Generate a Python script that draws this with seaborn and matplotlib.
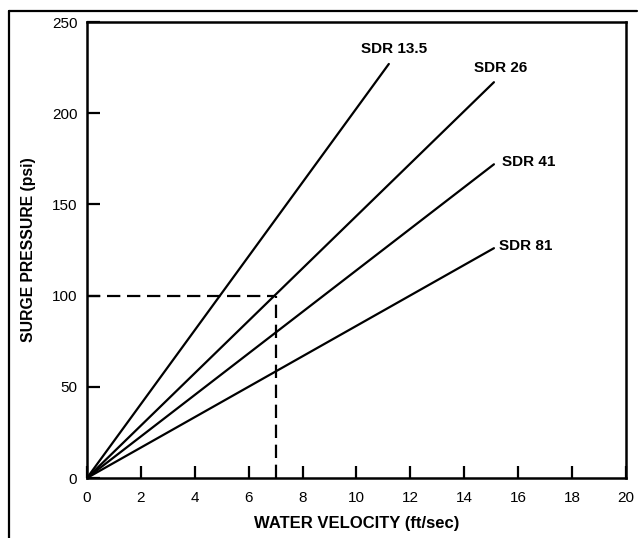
import matplotlib
matplotlib.use("Agg")
import matplotlib.pyplot as plt
import pandas as pd
import seaborn as sns

# values: each line runs from the origin to its end point
series = ["SDR 13.5", "SDR 26", "SDR 41", "SDR 81"]
end_velocity = [11.2, 15.1, 15.1, 15.1]
end_pressure = [227, 217, 172, 126]

# example reading (dashed guide)
guide_velocity = 7
guide_pressure = 100

x_ticks = [0, 2, 4, 6, 8, 10, 12, 14, 16, 18, 20]
y_ticks = [0, 50, 100, 150, 200, 250]

rows = []
for name, vx, py in zip(series, end_velocity, end_pressure):
    rows.append({"series": name, "velocity": 0, "pressure": 0})
    rows.append({"series": name, "velocity": vx, "pressure": py})
df = pd.DataFrame(rows)

sns.set_style("white")
font = ["Liberation Sans", "DejaVu Sans"]
plt.rcParams["font.family"] = font
plt.rcParams["text.color"] = "black"
plt.rcParams["axes.labelcolor"] = "black"
plt.rcParams["xtick.color"] = "black"
plt.rcParams["ytick.color"] = "black"

fig = plt.figure(figsize=(6.41, 5.38), dpi=100)
ax = fig.add_axes([0.1357, 0.1115, 0.8409, 0.8476])

sns.lineplot(data=df, x="velocity", y="pressure", units="series",
             estimator=None, color="black", linewidth=1.6, ax=ax,
             legend=False)

# dashed guide lines
ax.plot([0, guide_velocity], [guide_pressure, guide_pressure],
        color="black", linestyle=(0, (6, 3)), linewidth=1.6)
ax.plot([guide_velocity, guide_velocity], [0, guide_pressure],
        color="black", linestyle=(0, (6, 3)), linewidth=1.6)

# line labels near the end of each line (offsets in data units)
label_dx = [0.2, 0.25, 0.3, 0.2]
label_dy = [8, 8, 1, 1]
label_ha = ["center", "center", "left", "left"]
for name, vx, py, dx, dy, ha in zip(series, end_velocity, end_pressure,
                                    label_dx, label_dy, label_ha):
    ax.text(vx + dx, py + dy, name, ha=ha, va="center",
            fontsize=11, fontweight="bold")

ax.set_xlim(0, 20)
ax.set_ylim(0, 250)
ax.set_xticks(x_ticks)
ax.set_yticks(y_ticks)
ax.tick_params(axis="both", direction="in", length=9, width=1.6,
               labelsize=11, bottom=True, left=True)
ax.tick_params(axis="x", pad=9)
ax.tick_params(axis="y", pad=7)
for spine in ax.spines.values():
    spine.set_linewidth(1.8)
    spine.set_color("black")

ax.set_xlabel("WATER VELOCITY (ft/sec)", fontsize=12, fontweight="bold",
              labelpad=8)
ax.set_ylabel("SURGE PRESSURE (psi)", fontsize=11.3, fontweight="bold",
              labelpad=11)

# partial frame around the figure (top and left edges)
fig.add_artist(plt.Line2D([9 / 641, 637 / 641], [1 - 11 / 538, 1 - 11 / 538],
                          color="black", linewidth=1.6))
fig.add_artist(plt.Line2D([9 / 641, 9 / 641], [0, 1 - 11 / 538],
                          color="black", linewidth=1.6))

fig.savefig("out.png", dpi=100)
